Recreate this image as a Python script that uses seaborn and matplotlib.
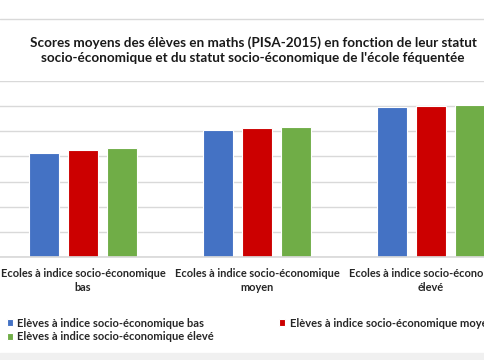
import pandas as pd
import matplotlib.pyplot as plt
import seaborn as sns
from matplotlib.lines import Line2D
from matplotlib.patches import Rectangle

# categories / series
ecoles = ["Ecoles à indice socio-économique\nbas",
          "Ecoles à indice socio-économique\nmoyen",
          "Ecoles à indice socio-économique\nélevé"]
eleves = ["Elèves à indice socio-économique bas",
          "Elèves à indice socio-économique moyen",
          "Elèves à indice socio-économique élevé"]
score_bas = [413, 507, 595]
score_moyen = [425, 513, 599]
score_eleve = [434, 519, 604]
couleurs = ["#4472C4", "#CC0000", "#70AD47"]

rows = []
for serie, vals in zip(eleves, [score_bas, score_moyen, score_eleve]):
    for ec, v in zip(ecoles, vals):
        rows.append({"ecole": ec, "eleve": serie, "score": v})
df = pd.DataFrame(rows)

sns.set_theme(style="white")
plt.rcParams["font.family"] = ["Lato", "DejaVu Sans"]

fig = plt.figure(figsize=(4.85, 3.6), dpi=100)
ax = fig.add_axes([-4 / 485, 103 / 360, 522 / 485, 176 / 360])

sns.barplot(data=df, x="ecole", y="score", hue="eleve", hue_order=eleves,
            palette=couleurs, saturation=1, width=0.666, gap=0.22,
            edgecolor="white", linewidth=0.8, ax=ax)

ax.set_xlim(-0.5, 2.5)
ax.set_ylim(0, 700)
ax.set_yticks(range(0, 701, 100))
ax.set_yticklabels([])
ax.yaxis.grid(True, color="#D9D9D9", linewidth=1)
ax.set_axisbelow(True)
for s in ["top", "left", "right"]:
    ax.spines[s].set_visible(False)
ax.spines["bottom"].set_color("#D9D9D9")
ax.tick_params(axis="both", length=0)
ax.tick_params(axis="x", pad=8)
for lab in ax.get_xticklabels():
    lab.set_fontsize(7.9)
    lab.set_fontweight("bold")
    lab.set_color("#262626")
    lab.set_linespacing(1.3)
ax.set_xlabel("")
ax.set_ylabel("")

handles, labels = ax.get_legend_handles_labels()
ax.get_legend().remove()
order = [0, 2, 1]
fig.legend([handles[i] for i in order], [labels[i] for i in order],
           ncol=2, loc="upper left", bbox_to_anchor=(0.014, 0.118),
           frameon=False, handlelength=0.55, handleheight=0.55,
           handletextpad=0.4, columnspacing=5.85, labelspacing=0.25,
           borderaxespad=0, borderpad=0.0,
           prop={"weight": "bold", "size": 8.0}, labelcolor="#262626")

fig.text(0.522, 0.9, "Scores moyens des élèves en maths (PISA-2015) en fonction de leur statut\n"
         "socio-économique et du statut socio-économique de l'école féquentée",
         ha="center", va="top", fontsize=9.7, fontweight="bold", color="#1a1a1a",
         linespacing=1.35)

# chart border lines
fig.add_artist(Line2D([0, 1], [1 - 19 / 360, 1 - 19 / 360], color="#D9D9D9", linewidth=1))
fig.add_artist(Rectangle((0, 0), 1, 7 / 360, color="#F0F0F0", transform=fig.transFigure))

fig.savefig("out.png", dpi=100)
